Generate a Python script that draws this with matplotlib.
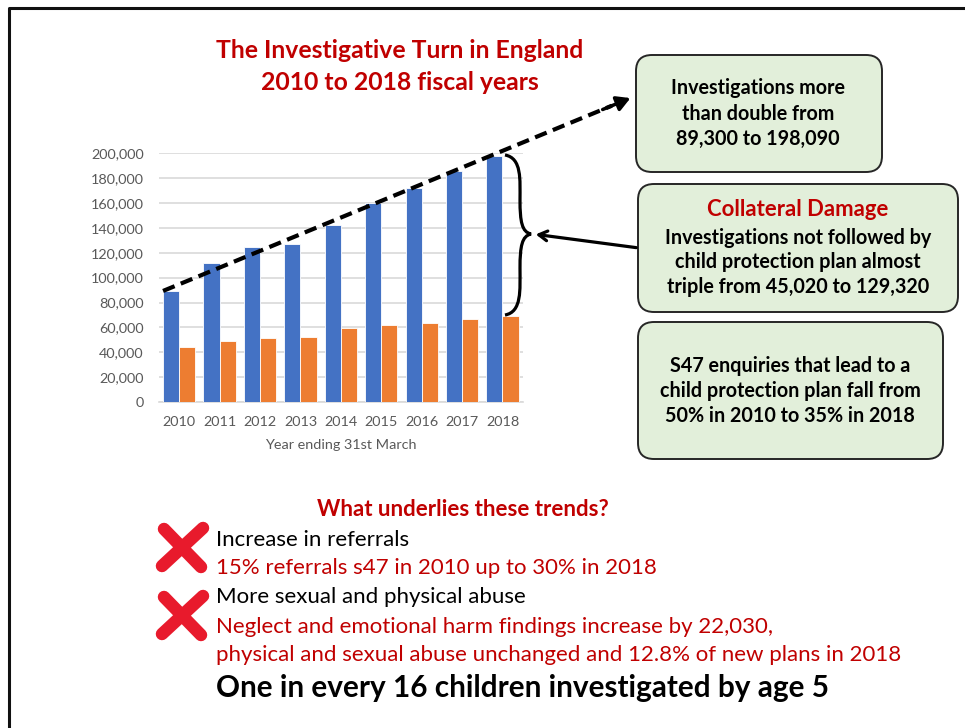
import matplotlib.pyplot as plt
import numpy as np
from matplotlib.patches import FancyBboxPatch, PathPatch
from matplotlib.path import Path
from matplotlib.ticker import FuncFormatter

# valores (investigações s47 e as que viram plano de proteção)
years = ["2010", "2011", "2012", "2013", "2014", "2015", "2016", "2017", "2018"]
s47_investigations = [89300, 111700, 124600, 127100, 142500, 160200, 172290, 185450, 198090]
led_to_plan = [44280, 48700, 51700, 52200, 59700, 61800, 63200, 66400, 68770]
y_ticks = [0, 20000, 40000, 60000, 80000, 100000, 120000, 140000, 160000, 180000, 200000]

plt.rcParams['font.family'] = ['Lato', 'DejaVu Sans']

W, H = 965, 728
RED = '#c00000'
fig = plt.figure(figsize=(W / 100, H / 100), dpi=100)

# eixo do gráfico de barras, posicionado em pixels
left, right, top, bottom = 159, 522.7, 153.3, 402
ax = fig.add_axes([left / W, 1 - bottom / H, (right - left) / W, (bottom - top) / H])
x = np.arange(len(years))
bw = 0.4
ax.bar(x - bw / 2, s47_investigations, bw, color='#4472c4', edgecolor='white', linewidth=0.6, zorder=3)
ax.bar(x + bw / 2, led_to_plan, bw, color='#ed7d31', edgecolor='white', linewidth=0.6, zorder=3)
ax.set_xlim(-0.5, len(years) - 0.5)
ax.set_ylim(0, 200000)
ax.set_yticks(y_ticks)
ax.yaxis.set_major_formatter(FuncFormatter(lambda v, p: f"{int(v):,}"))
ax.set_xticks(x)
ax.set_xticklabels(years)
ax.grid(axis='y', color='#d9d9d9', linewidth=1.2, zorder=0)
for s in ['top', 'right', 'left']:
    ax.spines[s].set_visible(False)
ax.spines['bottom'].set_color('#d9d9d9')
ax.spines['bottom'].set_linewidth(1.2)
ax.tick_params(length=0, colors='#595959', labelsize=10.4)
ax.tick_params(axis='y', pad=11)
ax.tick_params(axis='x', pad=10)
ax.set_xlabel("Year ending 31st March", color='#595959', fontsize=10.4, labelpad=8)
ax.set_facecolor('none')

# camada por cima da figura inteira, em coordenadas de pixel (y para baixo)
ov = fig.add_axes([0, 0, 1, 1], zorder=5)
ov.set_xlim(0, W)
ov.set_ylim(H, 0)
ov.axis('off')
ov.patch.set_alpha(0)

# moldura preta
ov.plot([9, 9, W + 5], [H + 5, 7.5, 7.5], color='#111111', lw=2.2, solid_capstyle='butt')

# título
ov.text(400, 50, "The Investigative Turn in England", color=RED, fontsize=17.8,
        fontweight='bold', ha='center', va='center')
ov.text(400, 82, "2010 to 2018 fiscal years", color=RED, fontsize=17.8,
        fontweight='bold', ha='center', va='center')

# linha tracejada partindo do topo da barra de 2010
start_disp = ax.transData.transform((x[0] - bw, s47_investigations[0]))
sx, sy = start_disp[0], H - start_disp[1]
ex, ey = 633, 97
t = 0.955
ov.plot([sx, sx + (ex - sx) * t], [sy, sy + (ey - sy) * t], color='black', lw=3,
        linestyle=(0, (3, 1.6)))
ov.annotate("", xy=(ex, ey), xytext=(sx + (ex - sx) * 0.93, sy + (ey - sy) * 0.93),
            arrowprops=dict(arrowstyle='-|>,head_length=0.8,head_width=0.45',
                            color='black', lw=2.5))

# caixas verdes
def box(x0, y0, x1, y1):
    p = FancyBboxPatch((x0, y0), x1 - x0, y1 - y0,
                       boxstyle="round,pad=0,rounding_size=16",
                       facecolor='#e2efda', edgecolor='#262626', lw=1.4)
    ov.add_patch(p)

box(636, 55, 882, 172)
box(638, 184, 958, 312)
box(638, 322, 943, 459)

bfs = 14.2
for yy, s in zip([88, 114, 139], ["Investigations more", "than double from", "89,300 to 198,090"]):
    ov.text(758, yy, s, fontsize=bfs, fontweight='bold', ha='center', va='center')
ov.text(798, 210, "Collateral Damage", fontsize=15.9, fontweight='bold', color=RED,
        ha='center', va='center')
for yy, s in zip([238, 262, 287], ["Investigations not followed by",
                                   "child protection plan almost",
                                   "triple from 45,020 to 129,320"]):
    ov.text(798, yy, s, fontsize=bfs, fontweight='bold', ha='center', va='center')
for yy, s in zip([366, 391, 416], ["S47 enquiries that lead to a",
                                   "child protection plan fall from",
                                   "50% in 2010 to 35% in 2018"]):
    ov.text(790, yy, s, fontsize=bfs, fontweight='bold', ha='center', va='center')

# chave do lado direito das barras de 2018
verts = [(505, 155), (522, 158), (520, 180), (520, 200),
         (520, 222), (522, 232), (531, 234),
         (522, 236), (520, 246), (520, 268),
         (520, 290), (522, 312), (505, 315)]
codes = [Path.MOVETO] + [Path.CURVE4] * 12
ov.add_patch(PathPatch(Path(verts, codes), facecolor='none', edgecolor='black', lw=2.3))
ov.annotate("", xy=(533, 234), xytext=(639, 248),
            arrowprops=dict(arrowstyle='->,head_length=0.6,head_width=0.35',
                            color='black', lw=2.3))

# parte de baixo
ov.text(463, 510, "What underlies these trends?", color=RED, fontsize=16,
        fontweight='bold', ha='center', va='center')

lines = [("Increase in referrals", 540, 'black'),
         ("15% referrals s47 in 2010 up to 30% in 2018", 568, RED),
         ("More sexual and physical abuse", 597, 'black'),
         ("Neglect and emotional harm findings increase by 22,030,", 627, RED),
         ("physical and sexual abuse unchanged and 12.8% of new plans in 2018", 655, RED)]
for s, yy, c in lines:
    ov.text(216, yy, s, color=c, fontsize=16, ha='left', va='center')
ov.text(216, 688, "One in every 16 children investigated by age 5", fontsize=21.4,
        fontweight='bold', ha='left', va='center')

# os dois X vermelhos
xred = '#e81a2c'
for (x0, y0) in [(158, 522), (158, 590)]:
    ov.plot([x0 + 6, x0 + 43], [y0 + 7, y0 + 45], color=xred, lw=9, solid_capstyle='round')
    ov.plot([x0 + 45, x0 + 4], [y0 + 6, y0 + 44], color=xred, lw=9, solid_capstyle='round')

fig.savefig("out.png", dpi=100)
